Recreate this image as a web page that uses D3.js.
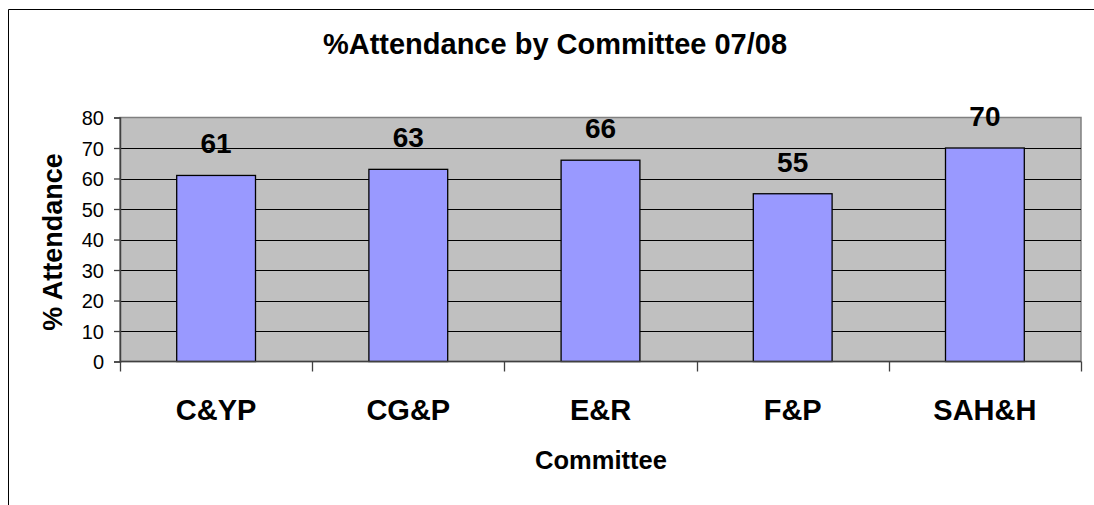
<!DOCTYPE html>
<html><head><meta charset="utf-8">
<script src="https://cdn.jsdelivr.net/npm/d3@7"></script>
<style>html,body{margin:0;padding:0;background:#fff;overflow:hidden}svg{display:block;overflow:hidden}text{font-family:"Liberation Sans",Arial,sans-serif}</style>
</head><body><svg id="c" width="1094" height="505"></svg>
<script>
const categories = ["C&YP", "CG&P", "E&R", "F&P", "SAH&H"];
const values = [61, 63, 66, 55, 70];
const yTicks = [0, 10, 20, 30, 40, 50, 60, 70, 80];
const titleText = "%Attendance by Committee 07/08";
const xTitle = "Committee";
const yTitle = "% Attendance";

const svg = d3.select("#c");
const L = 120, R = 1081, T = 117.5, B = 361.5;

// outer chart border (extends past viewport on right and bottom)
svg.append("path").attr("d", "M8.5,505 L8.5,9.5 L1094,9.5")
  .attr("fill", "none").attr("stroke", "#000").attr("stroke-width", 1);

const y = d3.scaleLinear().domain([0, 80]).range([B, T]);
const xb = d3.scaleBand().domain(categories).range([L, R]).padding(0);
const x = d3.scaleBand().domain(categories).range([L, R]).paddingInner(0.59).paddingOuter(0.295);

// plot area
svg.append("rect").attr("x", L).attr("y", T).attr("width", R - L).attr("height", B - T)
  .attr("fill", "#C0C0C0").attr("stroke", "#808080").attr("stroke-width", 1.5);

// gridlines
svg.append("g").selectAll("line").data(yTicks.filter(d => d > 0 && d < 80)).join("line")
  .attr("x1", L).attr("x2", R).attr("y1", d => Math.round(y(d)) + 0.5).attr("y2", d => Math.round(y(d)) + 0.5)
  .attr("stroke", "#000").attr("stroke-width", 1);

// bars
svg.append("g").selectAll("rect").data(values).join("rect")
  .attr("x", (d, i) => x(categories[i]))
  .attr("y", d => y(d))
  .attr("width", x.bandwidth())
  .attr("height", d => B - y(d))
  .attr("fill", "#9999FF").attr("stroke", "#000").attr("stroke-width", 1.3);

// value labels
svg.append("g").selectAll("text").data(values).join("text")
  .attr("x", (d, i) => x(categories[i]) + x.bandwidth() / 2)
  .attr("y", d => y(d) - 22)
  .attr("text-anchor", "middle").attr("font-size", 28).attr("font-weight", "bold").attr("fill", "#000")
  .text(d => d);

// y axis
const yAxis = d3.axisLeft(y).tickValues(yTicks).tickSize(6).tickPadding(10);
const gy = svg.append("g").attr("transform", `translate(${L},0)`).call(yAxis);
gy.select(".domain").attr("stroke", "#404040").attr("stroke-width", 1.5);
gy.selectAll(".tick line").attr("stroke", "#404040").attr("stroke-width", 1.3);
gy.selectAll(".tick text").attr("font-size", 20).attr("fill", "#000")
  .attr("font-family", '"Liberation Sans",Arial,sans-serif').attr("dy", "0.35em");

// x axis
const gx = svg.append("g").attr("transform", `translate(0,${B})`);
gx.append("line").attr("x1", L).attr("x2", R).attr("y1", 0).attr("y2", 0)
  .attr("stroke", "#404040").attr("stroke-width", 1.5);
const tickPos = categories.map(c => xb(c)).concat([R]);
gx.selectAll("line.t").data(tickPos).join("line").attr("class", "t")
  .attr("x1", d => Math.round(d) + 0.5).attr("x2", d => Math.round(d) + 0.5).attr("y1", 0).attr("y2", 10)
  .attr("stroke", "#404040").attr("stroke-width", 1.3);
gx.selectAll("text").data(categories).join("text")
  .attr("x", d => xb(d) + xb.bandwidth() / 2).attr("y", 420 - B)
  .attr("text-anchor", "middle").attr("font-size", 29).attr("font-weight", "bold").attr("fill", "#000")
  .text(d => d);

// titles
svg.append("text").attr("x", 555).attr("y", 53.5).attr("text-anchor", "middle")
  .attr("font-size", 29).attr("font-weight", "bold").text(titleText);
svg.append("text").attr("x", 601).attr("y", 468.5).attr("text-anchor", "middle")
  .attr("font-size", 25.5).attr("font-weight", "bold").text(xTitle);
svg.append("text").attr("transform", "translate(62,242) rotate(-90)").attr("text-anchor", "middle")
  .attr("font-size", 27).attr("font-weight", "bold").text(yTitle);
</script></body></html>
